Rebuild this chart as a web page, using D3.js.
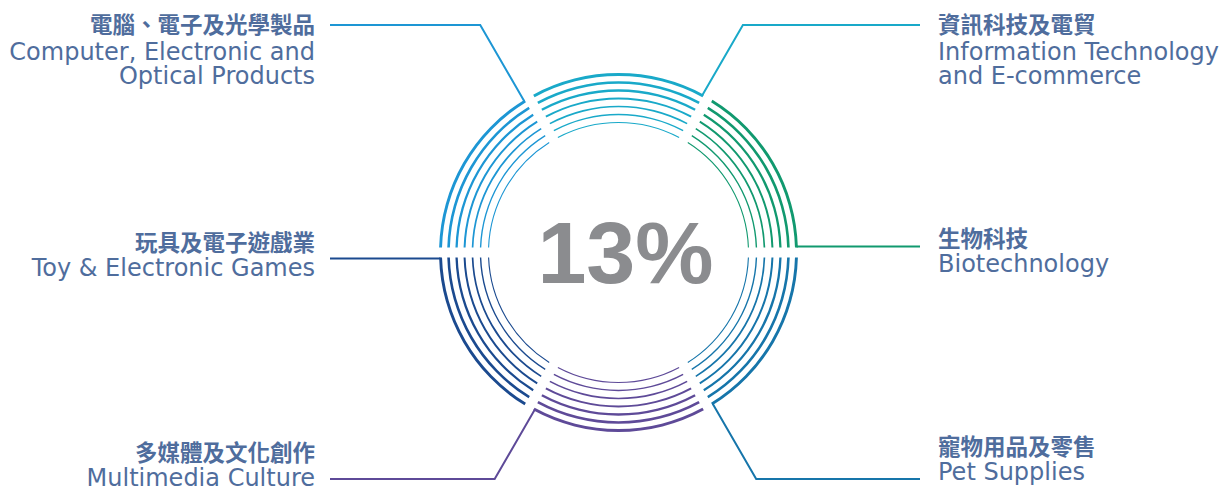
<!DOCTYPE html>
<html><head><meta charset="utf-8">
<script src="https://cdn.jsdelivr.net/npm/d3@7"></script>
<style>body{margin:0;background:#fff} svg{display:block}</style>
</head><body>
<svg id="chart" width="1227" height="488"></svg>
<script>
// ---- data ----
const sectors  = ["it", "bio", "pet", "multi", "toy", "comp"];
const labelsZh = ["資訊科技及電貿", "生物科技", "寵物用品及零售", "多媒體及文化創作", "玩具及電子遊戲業", "電腦、電子及光學製品"];
const labelsEn = [["Information Technology", "and E-commerce"], ["Biotechnology"], ["Pet Supplies"], ["Multimedia Culture"], ["Toy & Electronic Games"], ["Computer, Electronic and", "Optical Products"]];
const shares   = [1, 1, 1, 1, 1, 1];
const centerValue = "13%";

// ---- style / layout ----
const colors = ["#19a9c9", "#11996f", "#1675aa", "#5e4a98", "#1b4a8f", "#1d96d4"];
const zhBaseline = [33, 246.5, 454.5, 461, 250.5, 33];
const enOffset   = [27, 25, 25, 25, 25, 27];
const textColor = "#4f6d9d";
const cx = 618.5, cy = 252.5;
const ringCount = 7, outerR = 178, ringStep = 8;
const gap = 10;
const leftX = 330, rightX = 920, topY = 25, bottomY = 479;

const svg = d3.select("#chart");
const g = svg.append("g").attr("transform", `translate(${cx},${cy})`);

const pie = d3.pie().sort(null).value(d => d)
  .startAngle(-Math.PI / 6).endAngle(2 * Math.PI - Math.PI / 6)
  .padAngle(gap / 100);
const slices = pie(shares);

d3.range(ringCount).forEach(i => {
  const r = outerR - ringStep * i;
  const w = 2.9 - 0.3 * i;
  const arc = d3.arc().innerRadius(r - w / 2).outerRadius(r + w / 2).padRadius(100);
  g.selectAll(null).data(slices).enter().append("path")
    .attr("d", arc)
    .attr("fill", (d, k) => colors[k]);
});

// leaders and labels
slices.forEach((d, k) => {
  const a = d.endAngle;
  const off = gap / 2 + 1;
  const ax = outerR * Math.sin(a) - off * Math.cos(a);
  const ay = -outerR * Math.cos(a) - off * Math.sin(a);
  const right = Math.sin(a) > 0;
  const tx = (right ? rightX : leftX) - cx;
  const pts = [[ax, ay]];
  if (Math.abs(Math.cos(a)) > 0.01) {
    const ty = (Math.cos(a) > 0 ? topY : bottomY) - cy;
    const t = (ty - ay) / (-Math.cos(a));
    pts.push([ax + t * Math.sin(a), ty]);
    pts.push([tx, ty]);
  } else {
    pts.push([tx, ay]);
  }
  g.append("path").attr("d", d3.line()(pts))
    .attr("fill", "none").attr("stroke", colors[k]).attr("stroke-width", 2);

  const lx = right ? 938 : 315;
  const anchor = right ? "start" : "end";
  svg.append("text").attr("x", lx).attr("y", zhBaseline[k])
    .attr("text-anchor", anchor)
    .attr("font-family", "'Noto Sans CJK TC', 'Noto Sans CJK SC', sans-serif")
    .attr("font-weight", 700).attr("font-size", 22.5).attr("fill", textColor)
    .text(labelsZh[k]);
  labelsEn[k].forEach((line, j) => {
    svg.append("text").attr("x", lx).attr("y", zhBaseline[k] + enOffset[k] + j * 23.5)
      .attr("text-anchor", anchor)
      .attr("font-family", "'DejaVu Sans', sans-serif")
      .attr("font-size", 24).attr("fill", textColor)
      .text(line);
  });
});

svg.append("text").attr("x", 625.5).attr("y", 283)
  .attr("text-anchor", "middle")
  .attr("font-family", "'Liberation Sans', Arial, sans-serif")
  .attr("font-weight", 700).attr("font-size", 88).attr("fill", "#8b8c8f")
  .text(centerValue);
</script>
</body></html>
